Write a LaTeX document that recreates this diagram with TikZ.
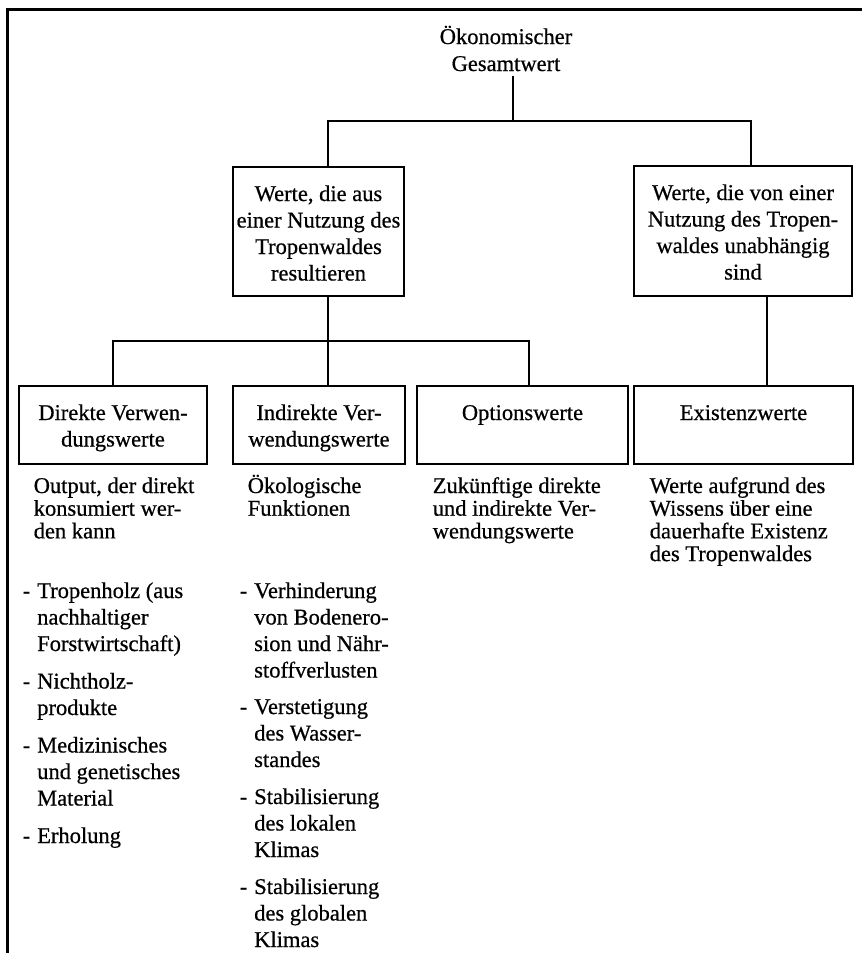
\documentclass[tikz,border=0pt]{standalone}
\usepackage{fontspec}
\setmainfont{Liberation Serif}[FakeBold=0.6]
\usetikzlibrary{positioning}
\newcommand{\mitte}[1]{\begin{tabular}[t]{@{}c@{}}#1\end{tabular}}
\newcommand{\links}[1]{\begin{tabular}[t]{@{}l@{}}#1\end{tabular}}
\newcommand{\punkte}[1]{\begin{tabular}[t]{@{}l@{\hspace{7pt}}l@{}}#1\end{tabular}}
\begin{document}
\begin{tikzpicture}[x=1pt,y=-1pt, line width=1.5pt,
	wert/.style={draw, line width=1.8pt, inner sep=0pt, anchor=base, text height=34pt, font=\fontsize{22.5}{26.5}\selectfont},
	beschr/.style={anchor=base west, inner sep=0pt, font=\fontsize{22.5}{22.7}\selectfont},
	liste/.style={anchor=base west, inner sep=0pt, font=\fontsize{22.5}{26.5}\selectfont}]
	\useasboundingbox (0,0) rectangle (862,953);
	\draw [line width=2.8pt] (7.5,953) -- (7.5,9.5) -- (862,9.5);
	\node [anchor=base, inner sep=0pt, text depth=31pt, font=\fontsize{22.5}{27}\selectfont] (gesamt) at (506,44) {\mitte{Ökonomischer\\Gesamtwert}};
	\node [wert, minimum width=171pt, text depth=95pt] (nutz) at (318.5,201) {\mitte{Werte, die aus\\einer Nutzung des\\Tropenwaldes\\resultieren}};
	\node [wert, minimum width=218pt, text depth=96pt] (unabh) at (743,200) {\mitte{Werte, die von einer\\Nutzung des Tropen-\\waldes unabhängig\\sind}};
	\node [wert, minimum width=188pt, text depth=44pt] (direkt) at (113,420) {\mitte{Direkte Verwen-\\dungswerte}};
	\node [wert, minimum width=172pt, text depth=44pt] (indir) at (319,420) {\mitte{Indirekte Ver-\\wendungswerte}};
	\node [wert, minimum width=211pt, text depth=44pt] (option) at (522.5,420) {\mitte{Optionswerte}};
	\node [wert, minimum width=219pt, text depth=44pt] (exist) at (743.5,420) {\mitte{Existenzwerte}};
	\coordinate (oben) at (513,121);
	\coordinate (unten) at (328,341);
	\draw ([xshift=7pt]gesamt.south) -- (oben);
	\draw ([xshift=9.5pt]nutz.north) |- (oben) -| ([xshift=8pt]unabh.north);
	\draw ([xshift=9.5pt]nutz.south) -- ([xshift=9pt]indir.north);
	\draw (direkt.north) |- (unten) -| ([xshift=6.5pt]option.north);
	\draw ([xshift=24pt]unabh.south) -- ([xshift=24pt]unabh.south |- exist.north);
	\node [beschr] (bdirekt) at (33,493) {\links{Output, der direkt\\konsumiert wer-\\den kann}};
	\node [beschr] (bindir) at (247,493) {\links{Ökologische\\Funktionen}};
	\node [beschr] (boption) at (432,493) {\links{Zukünftige direkte\\und indirekte Ver-\\wendungswerte}};
	\node [beschr] (bexist) at (649,493) {\links{Werte aufgrund des\\Wissens über eine\\dauerhafte Existenz\\des Tropenwaldes}};
	\node [liste] (ldirekt) at (22,598) {\punkte{- & Tropenholz (aus\\ & nachhaltiger\\ & Forstwirtschaft)\\[11pt]
		- & Nichtholz-\\ & produkte\\[11pt]
		- & Medizinisches\\ & und genetisches\\ & Material\\[11pt]
		- & Erholung}};
	\node [liste] (lindir) at (239,598) {\punkte{- & Verhinderung\\ & von Bodenero-\\ & sion und Nähr-\\ & stoffverlusten\\[10pt]
		- & Verstetigung\\ & des Wasser-\\ & standes\\[10.5pt]
		- & Stabilisierung\\ & des lokalen\\ & Klimas\\[10.5pt]
		- & Stabilisierung\\ & des globalen\\ & Klimas}};
\end{tikzpicture}
\end{document}
